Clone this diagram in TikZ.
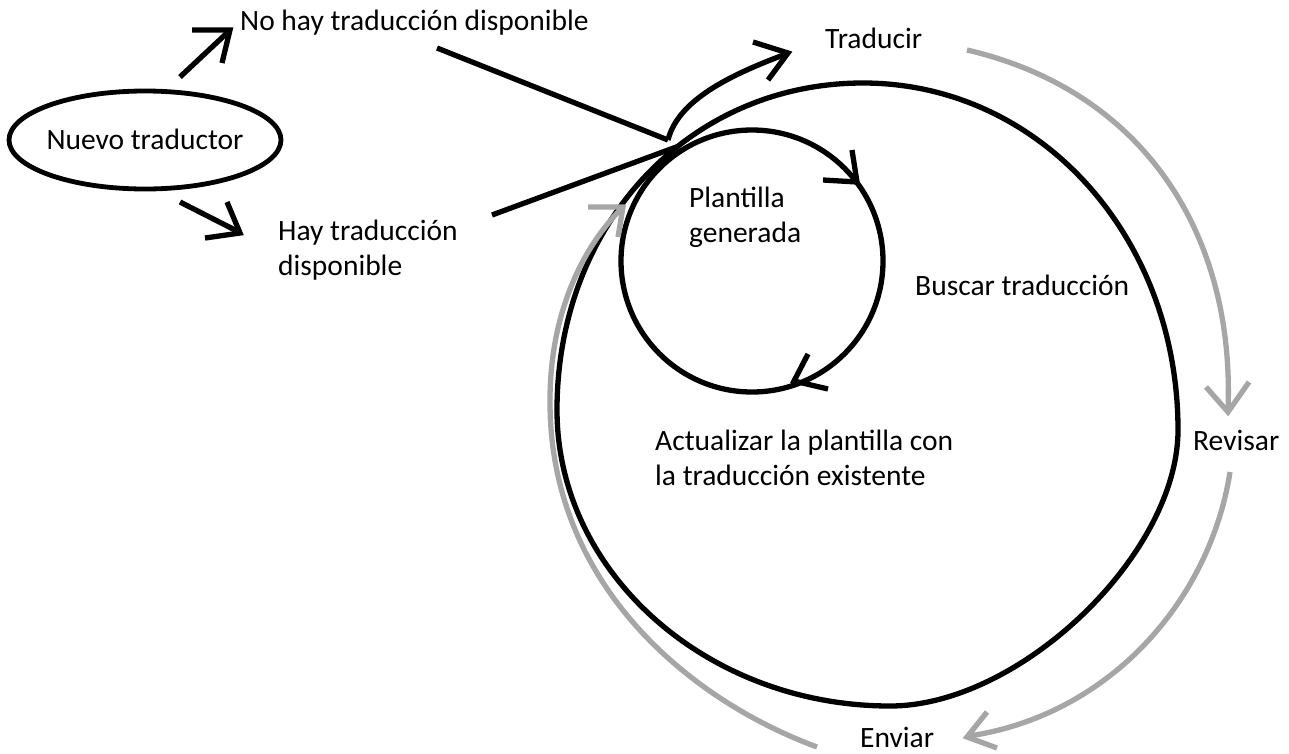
\documentclass[tikz,border=0pt]{standalone}
\usepackage{fontspec}
\setmainfont{Carlito}
\usetikzlibrary{shapes.geometric}
\definecolor{arrowgray}{RGB}{166,166,166}
\begin{document}
\begin{tikzpicture}[x=1pt,y=-1pt,
  lbl/.style={anchor=base west,inner sep=0pt,font=\fontsize{29.5}{35}\selectfont,align=left},
  blk/.style={draw=black,line width=5.3pt,line join=miter},
  gry/.style={draw=arrowgray,line width=5.3pt,line join=miter}]
\useasboundingbox (0,0) rectangle (1289,753);
% texts (multi-line nodes are placed at the baseline of their last line)
\node[lbl] (nohay) at (240,30) {No hay traducción disponible};
\node[lbl] (hay) at (278,275) {Hay traducción\\disponible};
\node[lbl] (trad) at (825,48) {Traducir};
\node[lbl] (plant) at (689,242) {Plantilla\\generada};
\node[lbl] (buscar) at (915,295) {Buscar traducción};
\node[lbl] (actual) at (655,485) {Actualizar la plantilla con\\la traducción existente};
\node[lbl] (revisar) at (1193,450) {Revisar};
\node[lbl] (enviar) at (860,747) {Enviar};
% ellipse
\node[draw,line width=4.8pt,ellipse,minimum width=272pt,minimum height=98pt,inner sep=0pt] (nuevo) at (145,140) {};
\node[anchor=base,inner sep=0pt,font=\fontsize{29.5}{35}\selectfont] (nuevotxt) at (145,149) {Nuevo traductor};
% left arrows
\coordinate (a1s) at (180,77); \coordinate (a1t) at (230,30);
\coordinate (a2s) at (180,202); \coordinate (a2t) at (240,233);
\draw[blk] (a1s) -- (227,33);
\draw[blk] (192,30) -- (a1t) -- (222,63);
\draw[blk] (a2s) -- (237,231);
\draw[blk] (205,238) -- (a2t) -- (227,202);
% big loop
\coordinate (T) at (863,83); \coordinate (R) at (1178,430);
\coordinate (B) at (890,706); \coordinate (L) at (557,410);
\draw[blk] (T) .. controls (1039,83) and (1178,236) .. (R)
              .. controls (1178,554) and (1020,706) .. (B)
              .. controls (707,706) and (557,573) .. (L)
              .. controls (557,224) and (689,83) .. (T) -- cycle;
% small circle
\draw[blk] (752,261) circle (131);
\draw[blk] (852,150) -- (857,182) -- (823,180);
\draw[blk] (808,354) -- (794,381) -- (828,389);
% lines to loop
\coordinate (J) at (668,140);
\draw[blk] (437,48) -- (J);
\draw[blk] (492,215) -- (679,146);
\draw[blk] (J) .. controls (678,100) and (730,75) .. (786,54);
\draw[blk] (753,42) -- (788,53) -- (768,80);
% gray arrows
\draw[gry] (967,50) .. controls (1140,90) and (1235,230) .. (1228,410);
\draw[gry] (1206,387) -- (1228,412) -- (1249,382);
\draw[gry] (1230,472) .. controls (1210,600) and (1110,715) .. (969,736);
\draw[gry] (987,712) -- (967,737) -- (997,748);
\draw[gry] (817,747) .. controls (690,700) and (549,585) .. (550,400)
                     .. controls (550,310) and (585,245) .. (621,209);
\draw[gry] (588,207) -- (623,207) -- (618,237);
\end{tikzpicture}
\end{document}
